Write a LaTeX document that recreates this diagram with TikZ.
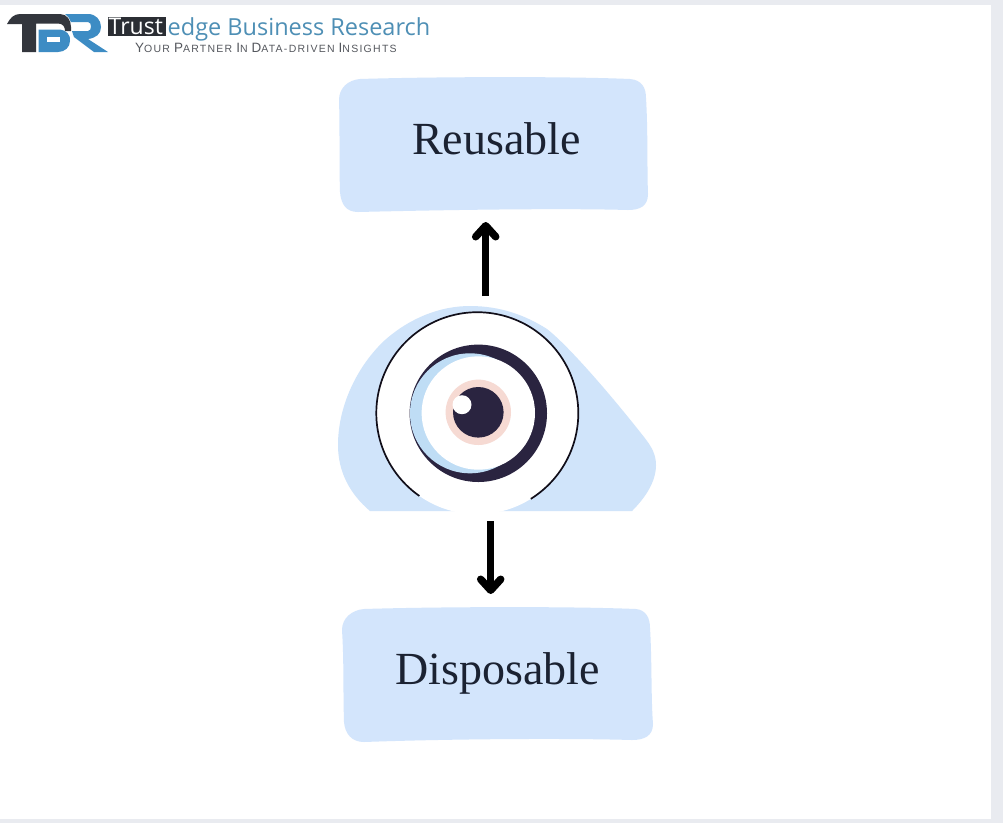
\documentclass[tikz,border=0pt]{standalone}
\usepackage{fontspec}
\usetikzlibrary{arrows.meta}
\setmainfont{Liberation Serif}
\newfontfamily\logosans{Open Sans}
\newfontfamily\tagsans[LetterSpace=12]{Liberation Sans}
\definecolor{framegrey}{HTML}{E9EBF0}
\definecolor{boxblue}{HTML}{D3E5FC}
\definecolor{blobblue}{HTML}{D0E4FA}
\definecolor{crescent}{HTML}{BFDDF5}
\definecolor{inkdark}{HTML}{2A2440}
\definecolor{irispink}{HTML}{F6DAD3}
\definecolor{textink}{HTML}{1B2232}
\definecolor{logodark}{HTML}{33363D}
\definecolor{logoblue}{HTML}{3D8CC4}
\definecolor{logotext}{HTML}{4E8FB5}
\definecolor{tagtext}{HTML}{55585E}
\tikzset{
  boxfill/.style={fill=boxblue,draw=none},
  boxlabel/.style={font=\fontsize{46}{46}\selectfont,text=textink,anchor=base,inner sep=0pt},
  flowarrow/.style={line width=6.5pt,black,-{Straight Barb[length=11pt,width=20pt,line width=7.5pt,round]}},
  logolabel/.style={anchor=base west,inner sep=0pt}
}
\newcommand{\tg}[2]{{\fontsize{13.5}{13.5}\selectfont #1}{\fontsize{10.5}{10.5}\selectfont #2}}
\begin{document}
\begin{tikzpicture}[x=1pt,y=-1pt]
\useasboundingbox (0,0) rectangle (1003,823);
\fill[framegrey] (0,0) rectangle (1003,823);
\fill[white] (0,5) rectangle (991,819);

% boxes
\fill[boxfill] (360,79) .. controls (420,77) and (560,76) .. (630,79)
  .. controls (642,80) and (646,88) .. (646,98)
  .. controls (648,130) and (647,170) .. (648,194)
  .. controls (648,206) and (640,210) .. (628,210)
  .. controls (560,208) and (440,210) .. (358,212)
  .. controls (346,212) and (341,204) .. (340,192)
  .. controls (339,160) and (340,130) .. (339,100)
  .. controls (339,88) and (348,80) .. (360,79) -- cycle;
\fill[boxfill] (364,609) .. controls (424,607) and (564,606) .. (636,609)
  .. controls (646,610) and (650,618) .. (650,628)
  .. controls (652,660) and (651,700) .. (653,724)
  .. controls (653,736) and (644,740) .. (632,740)
  .. controls (564,738) and (444,739) .. (364,742)
  .. controls (352,742) and (345,734) .. (344,722)
  .. controls (343,690) and (344,660) .. (342,630)
  .. controls (342,618) and (352,610) .. (364,609) -- cycle;
\node[boxlabel] (reuse) at (496.5,154) {Reusable};
\node[boxlabel] (dispose) at (497.5,684) {Disposable};

% eye
\fill[blobblue] (370,511) .. controls (350,494) and (338,472) .. (338,445)
  .. controls (338,405) and (358,365) .. (385,340)
  .. controls (410,318) and (440,306) .. (470,306)
  .. controls (500,306) and (525,315) .. (547,329)
  .. controls (570,347) and (615,400) .. (644,437)
  .. controls (652,447) and (656,455) .. (656,465)
  .. controls (656,482) and (645,498) .. (632,511) -- cycle;
\begin{scope}
  \clip (300,300) rectangle (700,511);
  \fill[white] (477.3,413.2) circle[radius=101];
\end{scope}
\draw[inkdark!40!black,line width=1.7pt] plot[domain=125:418,samples=150] ({477.3+101*cos(\x)},{413.2+101*sin(\x)});
\fill[inkdark] (478.3,413.3) circle[radius=68.7];
\fill[crescent] (470,413.3) circle[radius=60];
\fill[white] (478.3,413) circle[radius=56.7];
\fill[irispink] (478.3,412.3) circle[radius=32.7];
\fill[inkdark] (478.3,412.3) circle[radius=25.3];
\fill[white] (462,404.7) circle[radius=9.5];

% connectors
\coordinate (eyeTop) at (485.7,296);
\coordinate (reuseIn) at (485.7,222);
\coordinate (eyeBottom) at (490.7,521);
\coordinate (disposeIn) at (490.7,594);
\draw[flowarrow] (eyeTop) -- (reuseIn);
\draw[flowarrow] (eyeBottom) -- (disposeIn);

% logo
\fill[logodark] (7,24) .. controls (10,18) and (14,14) .. (20,14)
  -- (60,14) .. controls (67,14) and (71,20) .. (71,27) -- (71,31) -- (65,31)
  .. controls (65,27) and (63,23.5) .. (58,23.5)
  -- (36,23.5) -- (36,52) -- (22,52) -- (22,24) -- cycle;
\fill[logoblue] (38.5,29.5) -- (60,29.5) .. controls (66,30) and (71,35) .. (70,41)
  .. controls (70,47) and (65,52) .. (58,52) -- (38.5,52) -- cycle;
\fill[white] (47,37) rectangle (60,41.5);
\fill[logoblue] (65,14) -- (88,14) .. controls (96,14) and (101,20) .. (101,27)
  .. controls (101,34) and (96,38) .. (88,39) -- (108,52) -- (94,52) -- (74,37) -- (72,31)
  -- (88,31) .. controls (92,31) and (92,22) .. (88,22) -- (71,22)
  .. controls (70,19) and (68,16) .. (65,14) -- cycle;
\fill[logodark!85!black] (108,17) rectangle (166,36);
\node[logolabel,text=white,font=\logosans\fontsize{23}{23}\selectfont] (trust) at (108.5,34) {Trust};
\node[logolabel,text=logotext,font=\logosans\fontsize{23.5}{23.5}\selectfont] (edge) at (167.5,35) {edge Business Research};
\node[logolabel,text=tagtext,font=\tagsans] (tagline) at (135,52) {\tg{Y}{OUR} \tg{P}{ARTNER} \tg{I}{N} \tg{D}{ATA-DRIVEN} \tg{I}{NSIGHTS}};
\end{tikzpicture}
\end{document}
